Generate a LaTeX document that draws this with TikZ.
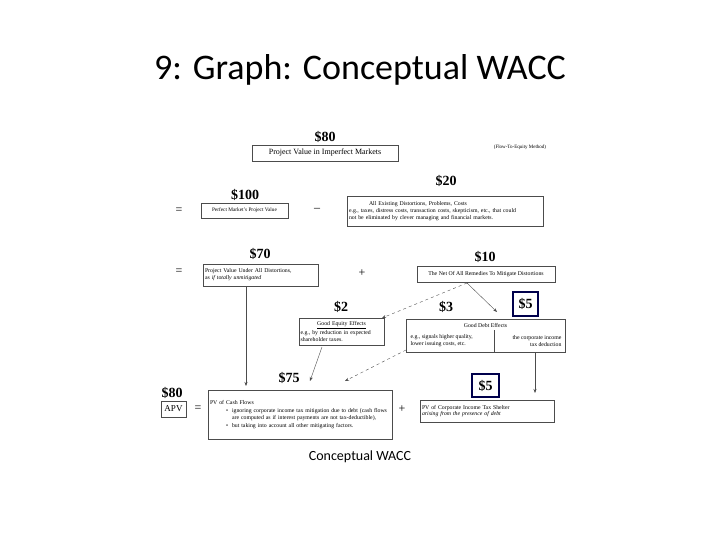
\documentclass[tikz,border=0pt]{standalone}
\usepackage{fontspec}
\setmainfont{Liberation Serif}
\newfontfamily\calfont{Carlito}
\usetikzlibrary{arrows.meta}
\begin{document}
\begin{tikzpicture}[x=1pt,y=-1pt,
  amt/.style={font=\fontsize{14}{14}\selectfont\bfseries},
  bx/.style={draw=black!70,line width=0.5pt,inner sep=1.5pt,font=\fontsize{5.8}{6.8}\selectfont,align=left},
  sm/.style={font=\fontsize{5.8}{6.8}\selectfont},
  op/.style={font=\fontsize{12}{12}\selectfont},
  cn/.style={draw=black!70,line width=0.4pt,-{Stealth[length=4pt]}},
  dcn/.style={cn,dashed}]
\useasboundingbox (0,0) rectangle (720,540);
\node[font=\calfont\fontsize{36}{36}\selectfont] (title) at (360,70) {9: Graph: Conceptual WACC};
\node[amt] (a80) at (325,137) {\$80};
\node[bx,font=\fontsize{8}{9}\selectfont,minimum width=146pt,minimum height=16pt,align=center] (piv) at (325,153) {Project Value in Imperfect Markets};
\node[font=\fontsize{5}{6}\selectfont] (fte) at (520,147) {(Flow-To-Equity Method)};
\node[op] (eq1) at (179,211) {=};
\node[amt] (a100) at (245,195) {\$100};
\node[bx,font=\fontsize{5.3}{6}\selectfont,minimum width=87pt,minimum height=15pt,align=center] (pm) at (244.5,210.5) {Perfect Market's Project Value};
\node[op] (mi) at (317,210) {--};
\node[amt] (a20) at (446,181) {\$20};
\node[bx,text width=193pt,minimum height=30pt] (dist) at (445.5,211) {\hspace*{20pt}All Existing Distortions, Problems, Costs\\e.g., taxes, distress costs, transaction costs, skepticism, etc., that could\\not be eliminated by clever managing and financial markets.};
\node[op] (eq2) at (179,272) {=};
\node[amt] (a70) at (260,254) {\$70};
\node[bx,text width=112pt,minimum height=22pt] (pvu) at (261,275) {Project Value Under All Distortions,\\as \textit{if totally unmitigated}};
\node[op] (pl1) at (362,273) {+};
\node[amt] (a10) at (485,257) {\$10};
\node[bx,minimum width=138pt,minimum height=16pt,align=center] (rem) at (486,274) {The Net Of All Remedies To Mitigate Distortions};
\node[amt] (a2) at (341,307) {\$2};
\node[bx,text width=82pt,minimum height=27pt] (ge) at (341.5,331.5) {\hfill\underline{Good Equity Effects}\hfill\null\\e.g., by reduction in expected\\shareholder taxes.};
\node[amt] (a3) at (446,307) {\$3};
\node[amt,draw=blue!30!black,line width=1.5pt,minimum width=25pt,minimum height=24pt,inner sep=1pt] (f5a) at (525.5,304) {\$5};
\node[bx,minimum width=159pt,minimum height=33pt] (gd) at (485.5,335.5) {};
\node[sm] (gdh) at (485.5,325.5) {Good Debt Effects};
\draw[black!70,line width=0.4pt] (494,330) -- (494,352);
\node[sm,align=left,anchor=west] (gdl) at (407,341) {e.g., signals higher quality,\\lower issuing costs, etc.};
\node[sm,align=right,anchor=east] (gdr) at (565,341) {the corporate income\\tax deduction};
\node[amt] (a75) at (289,378) {\$75};
\node[amt] (a80b) at (172,393) {\$80};
\node[bx,font=\fontsize{9}{9}\selectfont,minimum width=25pt,minimum height=16pt,align=center] (apv) at (173.5,409) {APV};
\node[op] (eq3) at (198,409) {=};
\node[bx,text width=181pt,minimum height=49pt] (pvcf) at (300.5,414.5) {PV of Cash Flows\\[1pt]
\hspace*{16pt}\textbullet\hspace{4pt}\parbox[t]{158pt}{\fontsize{5.8}{6.8}\selectfont ignoring corporate income tax mitigation due to debt (cash flows are computed as if interest payments are not tax-deductible),}\\[2pt]
\hspace*{16pt}\textbullet\hspace{4pt}but taking into account all other mitigating factors.};
\node[op] (pl2) at (402,409) {+};
\node[amt,draw=blue!30!black,line width=1.5pt,minimum width=27pt,minimum height=23pt,inner sep=1pt] (f5b) at (485.5,385.5) {\$5};
\node[bx,text width=131pt,minimum height=22pt] (pvts) at (487.5,411) {PV of Corporate Income Tax Shelter\\\textit{arising from the presence of debt}};
\node[font=\calfont\fontsize{14}{14}\selectfont] (cap) at (360,457) {Conceptual WACC};
\coordinate (t1) at (246,386);
\draw[cn] (246,286) -- (t1);
\draw[dcn] (467,283) -- (382,318);
\draw[cn] (467,283) -- (497,312);
\draw[cn] (322,347) -- (310,381);
\draw[dcn] (406,350) -- (345,381);
\draw[cn] (535,352) -- (535,393);
\end{tikzpicture}
\end{document}
